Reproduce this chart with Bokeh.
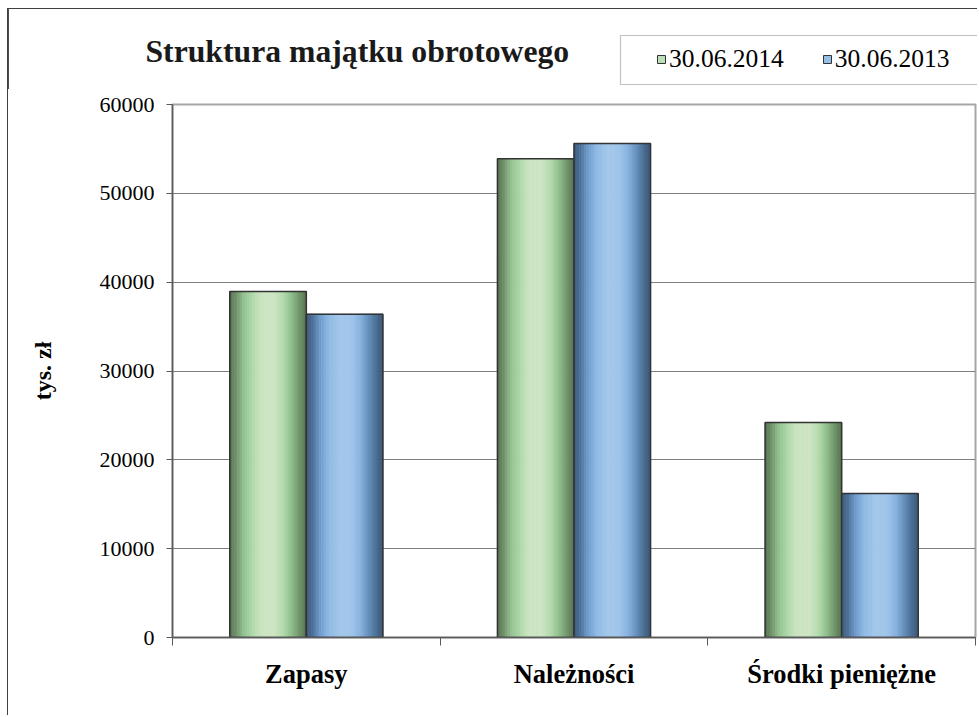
from bokeh.plotting import figure
from bokeh.layouts import column
from bokeh.models import (ColumnDataSource, Range1d, LinearAxis,
                          FixedTicker, NumeralTickFormatter, Legend, LegendItem, Label, BoxAnnotation)
from bokeh.transform import dodge
from bokeh.embed import file_html
from bokeh.resources import INLINE

# ---- data ----
categories = ["Zapasy", "Należności", "Środki pieniężne"]
values_2014 = [38950, 53900, 24200]
values_2013 = [36400, 55600, 16200]
series_names = ["30.06.2014", "30.06.2013"]
y_ticks = [0, 10000, 20000, 30000, 40000, 50000, 60000]
title_text = "Struktura majątku obrotowego"
y_label = "tys. zł"

# ---- styles ----
FONT = "Liberation Serif"
BAR_W = 0.286
N_STRIPS = 30
W = 970
HEAD_H = 81
MAIN_H = 626
green_stops = [(0.0, "#55714f"), (0.08, "#6e8f69"), (0.18, "#93c08f"), (0.28, "#a9d6a6"),
               (0.40, "#c9e3bf"), (0.58, "#cfe5c5"), (0.70, "#b3dbae"), (0.80, "#93c18f"),
               (0.90, "#739a6e"), (1.0, "#58744f")]
blue_stops = [(0.0, "#3c5a7a"), (0.08, "#4c6f96"), (0.18, "#6e9acb"), (0.30, "#8ebae6"),
              (0.45, "#a3c8ea"), (0.60, "#9fc5ea"), (0.72, "#85b0dd"), (0.84, "#5f88b4"),
              (0.93, "#486a8e"), (1.0, "#3c5878")]


def hex2rgb(h):
    h = h.lstrip("#")
    return tuple(int(h[i:i + 2], 16) for i in (0, 2, 4))


def grad(stops, t):
    for (t0, c0), (t1, c1) in zip(stops[:-1], stops[1:]):
        if t0 <= t <= t1:
            f = (t - t0) / (t1 - t0) if t1 > t0 else 0
            a, b = hex2rgb(c0), hex2rgb(c1)
            r = [round(a[k] + (b[k] - a[k]) * f) for k in range(3)]
            return "#%02x%02x%02x" % tuple(r)
    return stops[-1][1]


ncat = len(categories)
centers = [i + 0.5 for i in range(ncat)]
src = ColumnDataSource(dict(xc=centers, cat=categories, v2014=values_2014, v2013=values_2013))

# ---------------- header (title + legend) ----------------
head = figure(width=W, height=HEAD_H, x_range=Range1d(0, W), y_range=Range1d(0, HEAD_H),
              output_backend="svg", toolbar_location=None,
              x_axis_location=None, y_axis_location=None,
              min_border_left=0, min_border_right=0, min_border_top=0, min_border_bottom=0)
head.frame_align = False
head.styles = {"border-left": "1px solid #404040", "border-top": "1px solid #404040"}
head.xgrid.visible = False
head.ygrid.visible = False
head.outline_line_color = None
head.background_fill_color = "white"
head.border_fill_color = "white"

title = Label(x=137, y=39, x_units="screen", y_units="screen", text=title_text,
              text_font=FONT, text_font_size="31.7px", text_font_style="bold",
              text_color="#1a1a1a", text_baseline="alphabetic")
head.add_layout(title)

box = BoxAnnotation(left=612, right=1200, bottom=6, top=55,
                    left_units="screen", right_units="screen",
                    bottom_units="screen", top_units="screen",
                    fill_color="white", fill_alpha=1.0, line_color="#333333", line_width=1.2)
head.add_layout(box)

# ---------------- main chart ----------------
p = figure(x_range=Range1d(0, ncat), y_range=Range1d(0, y_ticks[-1]),
           width=W, height=MAIN_H, output_backend="svg", toolbar_location=None,
           x_axis_location=None, min_border_left=164, min_border_right=3,
           min_border_top=15, min_border_bottom=MAIN_H - 15 - 533)
p.frame_align = False
p.styles = {"border-left": "1px solid #404040"}
p.background_fill_color = "white"
p.border_fill_color = "white"
p.outline_line_color = "#a6a6a6"
p.outline_line_width = 2
p.xgrid.visible = False
p.ygrid.grid_line_color = "#7f7f7f"
p.ygrid.grid_line_width = 1

ya = p.yaxis[0]
ya.ticker = FixedTicker(ticks=y_ticks)
ya.formatter = NumeralTickFormatter(format="0")
ya.axis_line_color = "#595959"
ya.axis_line_width = 1.5
ya.major_tick_line_color = "#595959"
ya.major_tick_out = 6
ya.major_tick_in = 0
ya.minor_tick_line_color = None
ya.major_label_text_font = FONT
ya.major_label_text_font_size = "22px"
ya.major_label_text_color = "black"
ya.major_label_standoff = 12
ya.axis_label = y_label
ya.axis_label_text_font = FONT
ya.axis_label_text_font_size = "24px"
ya.axis_label_text_font_style = "bold"
ya.axis_label_text_color = "black"
ya.axis_label_standoff = 41

ex = LinearAxis(ticker=FixedTicker(ticks=list(range(ncat + 1))),
                axis_line_color="#595959", axis_line_width=1.5,
                major_tick_line_color="#595959", major_tick_out=8, major_tick_in=0,
                minor_tick_line_color=None, major_label_text_font_size="0px",
                major_label_text_color=None, major_label_standoff=0)
p.add_layout(ex, "below")
cx = LinearAxis(ticker=FixedTicker(ticks=centers),
                major_label_overrides={c: n for c, n in zip(centers, categories)},
                axis_line_color=None, major_tick_line_color=None, major_tick_out=0,
                minor_tick_line_color=None,
                major_label_text_font=FONT, major_label_text_font_size="26.5px",
                major_label_text_font_style="bold", major_label_text_color="black",
                major_label_standoff=13)
p.add_layout(cx, "below")

legend_items = []
for s, (col, stops, off) in enumerate([("v2014", green_stops, -BAR_W / 2),
                                       ("v2013", blue_stops, BAR_W / 2)]):
    sw = BAR_W / N_STRIPS
    for i in range(N_STRIPS):
        t = (i + 0.5) / N_STRIPS
        c = grad(stops, t)
        p.vbar(x=dodge("xc", off - BAR_W / 2 + (i + 0.5) * sw), top=col,
               width=sw, source=src, fill_color=c, line_color=c, line_width=0.8)
    p.vbar(x=dodge("xc", off), top=col, width=BAR_W, source=src,
           fill_color=None, line_color="#333333", line_width=1.5)
    # legend proxy glyph in the header figure (same data, kept outside the header's visible area)
    sw_r = head.vbar(x=dodge("xc", -W), top=col, width=1, source=src,
                     fill_color=grad(stops, 0.35), line_color="#333333", line_width=1)
    legend_items.append(LegendItem(label=series_names[s], renderers=[sw_r]))

leg = Legend(items=legend_items, orientation="horizontal", location=(648, 16),
             label_text_font=FONT, label_text_font_size="25.5px", label_text_color="black",
             glyph_width=10, glyph_height=10, label_standoff=3, spacing=38, padding=10,
             border_line_color=None, background_fill_alpha=0)
head.add_layout(leg, "center")

page = column(head, p, spacing=0)
page.styles = {"margin-left": "7px", "margin-top": "8px"}

open("out.html", "w").write(file_html(page, INLINE))
